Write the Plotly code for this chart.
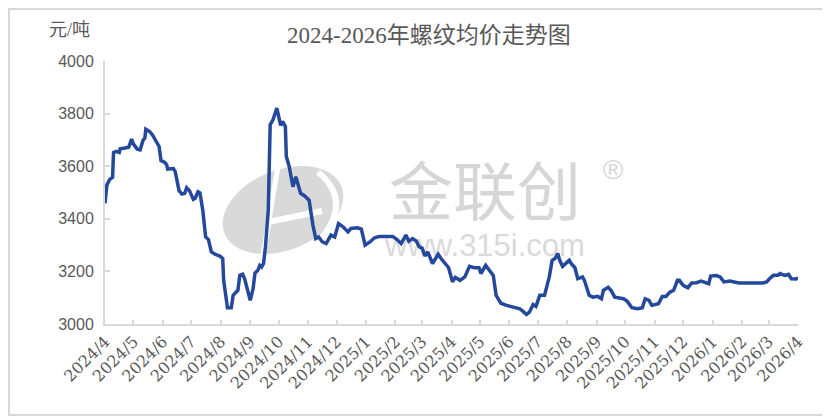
import numpy as np
import plotly.graph_objects as go

title_text = "2024-2026年螺纹均价走势图"
unit_text = "元/吨"

dates = [
    "2024-04-01", "2024-04-03", "2024-04-06", "2024-04-09", "2024-04-10", "2024-04-13", "2024-04-16", "2024-04-17", "2024-04-22", "2024-04-26", "2024-04-29",
    "2024-05-01", "2024-05-05", "2024-05-08", "2024-05-11", "2024-05-13", "2024-05-14", "2024-05-18", "2024-05-21", "2024-05-25", "2024-05-28", "2024-05-30",
    "2024-06-03", "2024-06-05", "2024-06-06", "2024-06-12", "2024-06-14", "2024-06-18", "2024-06-21", "2024-06-24", "2024-06-26", "2024-06-29",
    "2024-07-03", "2024-07-05", "2024-07-08", "2024-07-10", "2024-07-13", "2024-07-16", "2024-07-19", "2024-07-22", "2024-07-26", "2024-07-31",
    "2024-08-03", "2024-08-04", "2024-08-07", "2024-08-08", "2024-08-12", "2024-08-14", "2024-08-17", "2024-08-19", "2024-08-21", "2024-08-24", "2024-08-26", "2024-08-30",
    "2024-09-01", "2024-09-04", "2024-09-06", "2024-09-09", "2024-09-11", "2024-09-13", "2024-09-15", "2024-09-17", "2024-09-20", "2024-09-22", "2024-09-25", "2024-09-29",
    "2024-10-03", "2024-10-05", "2024-10-08", "2024-10-09", "2024-10-12", "2024-10-16", "2024-10-19", "2024-10-21", "2024-10-24", "2024-10-28",
    "2024-11-02", "2024-11-06", "2024-11-09", "2024-11-12", "2024-11-16", "2024-11-20", "2024-11-25", "2024-11-29",
    "2024-12-03", "2024-12-08", "2024-12-13", "2024-12-16", "2024-12-23", "2024-12-27", "2024-12-31",
    "2025-01-05", "2025-01-10", "2025-01-15", "2025-01-29",
    "2025-02-02", "2025-02-07", "2025-02-12", "2025-02-15", "2025-02-19", "2025-02-23", "2025-02-26",
    "2025-03-01", "2025-03-04", "2025-03-07", "2025-03-12", "2025-03-18", "2025-03-21", "2025-03-26", "2025-03-29",
    "2025-04-02", "2025-04-05", "2025-04-10", "2025-04-15", "2025-04-20", "2025-04-25", "2025-04-30",
    "2025-05-02", "2025-05-07", "2025-05-11", "2025-05-15", "2025-05-18", "2025-05-23", "2025-05-29",
    "2025-06-05", "2025-06-12", "2025-06-15", "2025-06-19", "2025-06-22", "2025-06-26", "2025-06-29",
    "2025-07-03", "2025-07-08", "2025-07-13", "2025-07-16", "2025-07-19", "2025-07-22", "2025-07-24", "2025-07-27", "2025-07-31",
    "2025-08-03", "2025-08-05", "2025-08-09", "2025-08-12", "2025-08-17", "2025-08-19", "2025-08-24", "2025-08-28",
    "2025-09-02", "2025-09-06", "2025-09-08", "2025-09-13", "2025-09-16", "2025-09-20", "2025-09-25", "2025-09-29",
    "2025-10-03", "2025-10-08", "2025-10-14", "2025-10-19", "2025-10-22", "2025-10-26", "2025-10-29",
    "2025-11-05", "2025-11-09", "2025-11-13", "2025-11-17", "2025-11-21", "2025-11-25", "2025-11-27",
    "2025-12-01", "2025-12-06", "2025-12-10", "2025-12-15", "2025-12-20", "2025-12-25", "2025-12-28", "2025-12-30",
    "2026-01-05", "2026-01-09", "2026-01-13", "2026-01-19", "2026-01-24", "2026-01-29",
    "2026-02-23", "2026-02-27",
    "2026-03-02", "2026-03-06", "2026-03-11", "2026-03-13", "2026-03-18", "2026-03-22", "2026-03-25", "2026-03-30", "2026-04-01",
]

prices = [
    3459, 3529, 3550, 3558, 3652, 3656, 3652, 3666, 3669, 3672, 3703,
    3684, 3665, 3662, 3698, 3707, 3741, 3732, 3719, 3694, 3675, 3621,
    3614, 3605, 3589, 3591, 3579, 3507, 3494, 3497, 3518, 3507,
    3474, 3478, 3503, 3499, 3433, 3331, 3321, 3274, 3265, 3258,
    3249, 3166, 3071, 3062, 3062, 3109, 3121, 3128, 3185, 3189, 3173, 3115,
    3090, 3134, 3194, 3204, 3223, 3217, 3230, 3293, 3433, 3758, 3777, 3821,
    3755, 3770, 3751, 3637, 3599, 3522, 3560, 3535, 3497, 3488,
    3471, 3376, 3325, 3331, 3312, 3306, 3338, 3331,
    3382, 3369, 3350, 3363, 3366, 3361, 3300,
    3312, 3328, 3333, 3333,
    3323, 3306, 3338, 3315, 3325, 3315, 3293,
    3289, 3259, 3274, 3230, 3265, 3249, 3230, 3214,
    3160, 3177, 3166, 3179, 3219, 3214, 3214,
    3192, 3223, 3204, 3185, 3109, 3079, 3071,
    3064, 3058, 3049, 3036, 3045, 3074, 3067,
    3109, 3109, 3179, 3242, 3249, 3268, 3242, 3219, 3230,
    3242, 3230, 3214, 3172, 3179, 3166, 3109, 3102,
    3105, 3096, 3128, 3140, 3128, 3102, 3100, 3096,
    3087, 3062, 3058, 3062, 3096, 3090, 3071,
    3077, 3105, 3105, 3121, 3128, 3166, 3166,
    3147, 3138, 3156, 3157, 3163, 3157, 3153, 3182,
    3184, 3179, 3160, 3163, 3160, 3156,
    3156, 3160,
    3172, 3185, 3185, 3192, 3185, 3189, 3172, 3171, 3176,
]

# page offset introduced by the default body margin of the html page
OFF = 8
W, H = 830 - OFF, 416 - OFF
PL, PR, PT, PB = 105, 798, 61, 323          # plot area in page pixels
ML, MT = PL - OFF, PT - OFF
MR, MB = 830 - PR, 416 - PB - 1
PW, PH = W - ML - MR, H - MT - MB

def px(x):
    return (x - PL) / PW

def py(y):
    return (PT + PH - y) / PH

fig = go.Figure()
fig.add_trace(go.Scatter(
    x=dates, y=prices, mode="lines",
    line=dict(color="#24489b", width=3.5),
    showlegend=False, hoverinfo="x+y",
))

shapes = []
# frame
shapes.append(dict(type="rect", xref="paper", yref="paper",
                   x0=px(OFF + 1), x1=px(829), y0=py(415), y1=py(OFF + 1),
                   line=dict(color="#d9d9d9", width=2), fillcolor="rgba(0,0,0,0)", layer="below"))
# watermark logo (tilted ellipse)
t = np.linspace(0, 2 * np.pi, 60)
cx, cy, a, b, ang = 283, 210, 63, 40, np.deg2rad(-22)
ex = cx + a * np.cos(t) * np.cos(ang) - b * np.sin(t) * np.sin(ang)
ey = cy + a * np.cos(t) * np.sin(ang) + b * np.sin(t) * np.cos(ang)
path = "M " + " L ".join(f"{px(xx):.4f},{py(yy):.4f}" for xx, yy in zip(ex, ey)) + " Z"
shapes.append(dict(type="path", xref="paper", yref="paper", path=path,
                   fillcolor="#d9d9d9", line=dict(width=0), layer="below"))
shapes.append(dict(type="line", xref="paper", yref="paper",
                   x0=px(268), y0=py(222), x1=px(322), y1=py(211),
                   line=dict(color="white", width=6), layer="below"))
shapes.append(dict(type="line", xref="paper", yref="paper",
                   x0=px(278), y0=py(166), x1=px(262), y1=py(262),
                   line=dict(color="white", width=5), layer="below"))
shapes.append(dict(type="path", xref="paper", yref="paper",
                   path=f"M {px(318):.4f},{py(172):.4f} Q {px(352):.4f},{py(200):.4f} {px(322):.4f},{py(238):.4f}",
                   line=dict(color="white", width=6), layer="below"))

def label_box(text, x0, x1, y0, y1, size, color, family):
    return dict(type="rect", xref="paper", yref="paper",
                x0=px(x0), x1=px(x1), y0=py(y1), y1=py(y0),
                line=dict(width=0), fillcolor="rgba(0,0,0,0)", layer="below",
                label=dict(text=text, textposition="middle center",
                           font=dict(size=size, color=color, family=family)))

shapes.append(label_box("金联创", 380, 590, 168, 226, 64, "#d6d6d6", "Noto Sans CJK SC"))
shapes.append(label_box("www.315i.com", 375, 595, 228, 256, 31, "#dadada", "Liberation Sans"))
shapes.append(label_box("®", 598, 628, 150, 182, 28, "#d6d6d6", "Liberation Sans"))

serif_cjk = "Times New Roman, DejaVu Serif, Noto Sans CJK SC"

fig.update_layout(
    width=W, height=H,
    margin=dict(l=ML, r=MR, t=MT, b=MB, pad=0),
    paper_bgcolor="white", plot_bgcolor="white",
    shapes=shapes,
    annotations=[
        dict(text=title_text, xref="paper", yref="paper", x=px(429), y=py(35),
             xanchor="center", yanchor="middle", showarrow=False,
             font=dict(size=23, color="#595959", family=serif_cjk)),
        dict(text=unit_text, xref="paper", yref="paper", x=px(47), y=py(30),
             xanchor="left", yanchor="middle", showarrow=False,
             font=dict(size=18, color="#595959", family=serif_cjk)),
    ],
    xaxis=dict(
        type="date", range=["2024-04-01", "2026-04-01"],
        tick0="2024-04-01", dtick="M1", tickformat="%Y/%-m",
        tickangle=-45, ticks="inside", ticklen=4, tickcolor="#d9d9d9", tickwidth=1.5,
        showline=True, linecolor="#d9d9d9", linewidth=2,
        showgrid=False, zeroline=False, automargin=False,
        tickfont=dict(size=16, color="#595959", family="DejaVu Serif"),
    ),
    yaxis=dict(
        range=[3000, 4000], dtick=200, tick0=3000,
        ticks="inside", ticklen=5, tickcolor="#d9d9d9", tickwidth=1.5,
        showline=True, linecolor="#d9d9d9", linewidth=2,
        showgrid=False, zeroline=False, automargin=False,
        ticklabelstandoff=6,
        tickfont=dict(size=16, color="#595959", family="Liberation Sans"),
    ),
)

fig.write_html("out.html")
